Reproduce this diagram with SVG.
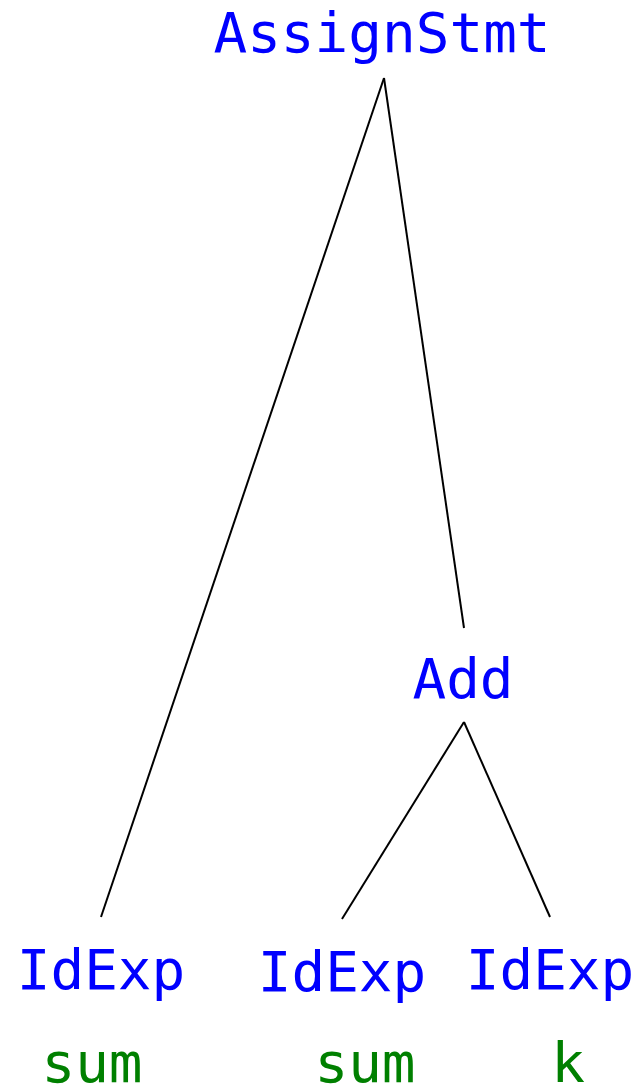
<svg xmlns="http://www.w3.org/2000/svg" width="639" height="1085" viewBox="0 0 639 1085">
<style>
.lbl{font-family:"DejaVu Sans Mono","Liberation Mono",monospace;font-size:56px;fill:#0000ff;text-anchor:middle}
.val{font-family:"DejaVu Sans Mono","Liberation Mono",monospace;font-size:56px;fill:#008000;text-anchor:middle}
.edge{stroke:#000;stroke-width:2;fill:none}
</style>
<rect width="639" height="1085" fill="#fff"/>
<g id="connectors">
<line class="edge" x1="384" y1="78" x2="101" y2="917"/>
<line class="edge" x1="384" y1="78" x2="464" y2="628"/>
<line class="edge" x1="464" y1="722" x2="342" y2="919"/>
<line class="edge" x1="464" y1="722" x2="550" y2="917"/>
</g>
<g id="n-assign"><text class="lbl" x="382" y="52">AssignStmt</text></g>
<g id="n-add"><text class="lbl" x="463" y="698">Add</text></g>
<g id="n-idexp1"><text class="lbl" x="101" y="989">IdExp</text><text class="val" x="92" y="1082">sum</text></g>
<g id="n-idexp2"><text class="lbl" x="342" y="991">IdExp</text><text class="val" x="365" y="1082">sum</text></g>
<g id="n-idexp3"><text class="lbl" x="550" y="989">IdExp</text><text class="val" x="568" y="1082">k</text></g>
</svg>
